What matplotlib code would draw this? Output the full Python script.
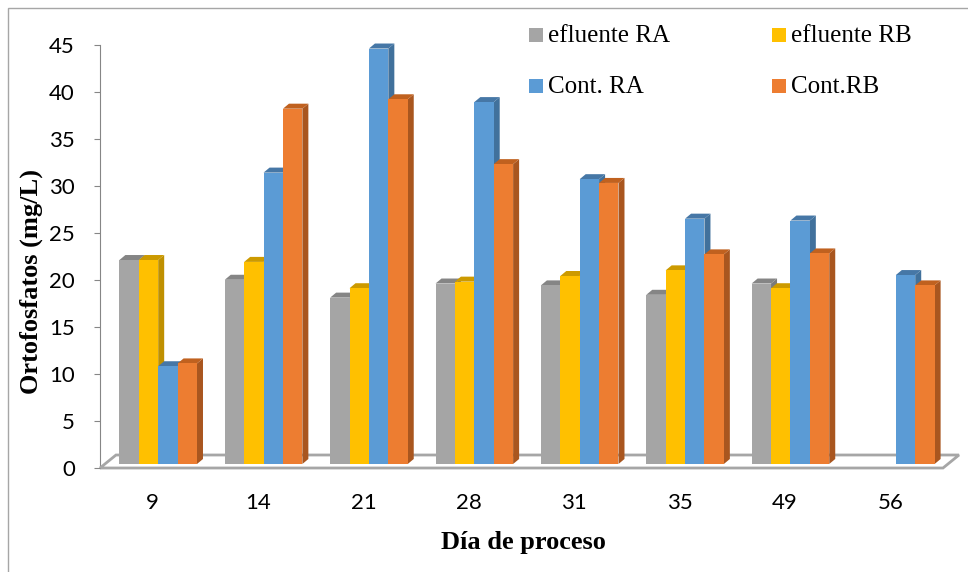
import numpy as np
import matplotlib.pyplot as plt
from matplotlib.patches import Polygon, Rectangle

# ortofosfatos (mg/L) por día de proceso
dias = ['9', '14', '21', '28', '31', '35', '49', '56']
series = ['efluente RA', 'efluente RB', 'Cont. RA', 'Cont.RB']
efl_ra = [21.7, 19.6, 17.7, 19.2, 19.0, 18.0, 19.2, np.nan]
efl_rb = [21.7, 21.5, 18.7, 19.4, 20.0, 20.6, 18.7, np.nan]
cont_ra = [10.4, 31.0, 44.2, 38.5, 30.3, 26.1, 25.9, 20.1]
cont_rb = [10.7, 37.8, 38.8, 31.9, 29.9, 22.3, 22.4, 19.0]
valores = [efl_ra, efl_rb, cont_ra, cont_rb]

c_front = ['#A5A5A5', '#FFC000', '#5B9BD5', '#ED7D31']
c_side = ['#7B7B7B', '#BF9000', '#41719C', '#A9561F']
c_top = ['#858585', '#CC9A00', '#4677A6', '#C0611F']

W, H = 968, 572
fig = plt.figure(figsize=(W / 100, H / 100), dpi=100)

# axes box in pixels (front plane of the pseudo-3d chart)
x0px, x1px, y0px, y1px = 100, 943, 468, 45
ax = fig.add_axes([x0px / W, 1 - y0px / H, (x1px - x0px) / W, (y0px - y1px) / H])
ax.set_xlim(-0.5, len(dias) - 0.5)
ax.set_ylim(0, 45)
kx = len(dias) / (x1px - x0px)
ky = 45 / (y0px - y1px)

# floor
fdx, fdy = 16 * kx, 13 * ky
floor = Polygon([(-0.5, 0), (7.5, 0), (7.5 + fdx, fdy), (-0.5 + fdx, fdy)],
                closed=True, fc='white', ec='#A6A6A6', lw=2, clip_on=False, zorder=1)
ax.add_patch(floor)

# bars with side and top faces
bw = 19.4 * kx
shift = 5.5 * kx
lift = 4 * ky
ddx, ddy = 6 * kx, 5 * ky
z = 2
for k in range(len(dias)):
    for i, vals in enumerate(valores):
        v = vals[k]
        if np.isnan(v):
            continue
        xl = k + shift + (i - 2) * bw
        xr = xl + bw
        yb, yt = lift, lift + v
        side = Polygon([(xr, yb), (xr + ddx, yb + ddy), (xr + ddx, yt + ddy), (xr, yt)],
                       closed=True, fc=c_side[i], ec='none', clip_on=False, zorder=z)
        top = Polygon([(xl, yt), (xr, yt), (xr + ddx, yt + ddy), (xl + ddx, yt + ddy)],
                      closed=True, fc=c_top[i], ec='none', clip_on=False, zorder=z)
        ax.add_patch(side)
        ax.add_patch(top)
        ax.bar(xl, v, width=bw, bottom=yb, align='edge', color=c_front[i],
               clip_on=False, zorder=z + 0.5)
        z += 1

for s in ['top', 'right', 'bottom']:
    ax.spines[s].set_visible(False)
ax.spines['left'].set_color('#868686')
ax.spines['left'].set_zorder(0.5)

ax.set_yticks(np.arange(0, 46, 5))
ax.tick_params(axis='y', direction='out', length=4.5, color='#868686',
               labelsize=16, pad=13.5)
ax.set_xticks(range(len(dias)))
ax.set_xticklabels(dias)
ax.tick_params(axis='x', length=0, labelsize=16, pad=18)
for lab in ax.get_xticklabels() + ax.get_yticklabels():
    lab.set_fontfamily('Lato')

fig.text(31 / W, 1 - 281 / H, 'Ortofosfatos (mg/L)', rotation=90, ha='center', va='center',
         family='Liberation Serif', weight='bold', size=19)
fig.text(523 / W, 1 - 543 / H, 'Día de proceso', ha='center', va='center',
         family='Liberation Serif', weight='bold', size=19)

# legend, two columns
leg_x = [529, 772, 529, 772]
leg_base = [42, 42, 93, 93]
for i, name in enumerate(series):
    x, b = leg_x[i], leg_base[i]
    fig.add_artist(Rectangle((x / W, 1 - b / H), 14 / W, 14 / H,
                             transform=fig.transFigure, fc=c_front[i], ec='none'))
    fig.text((x + 19) / W, 1 - b / H, name, ha='left', va='baseline',
             family='Liberation Serif', size=18)

# chart area border
fig.add_artist(Rectangle((8 / W, -0.05), 1.5, 1.05 - 8 / H, transform=fig.transFigure,
                         fill=False, ec='#A6A6A6', lw=1))

fig.savefig('out.png', dpi=100)
